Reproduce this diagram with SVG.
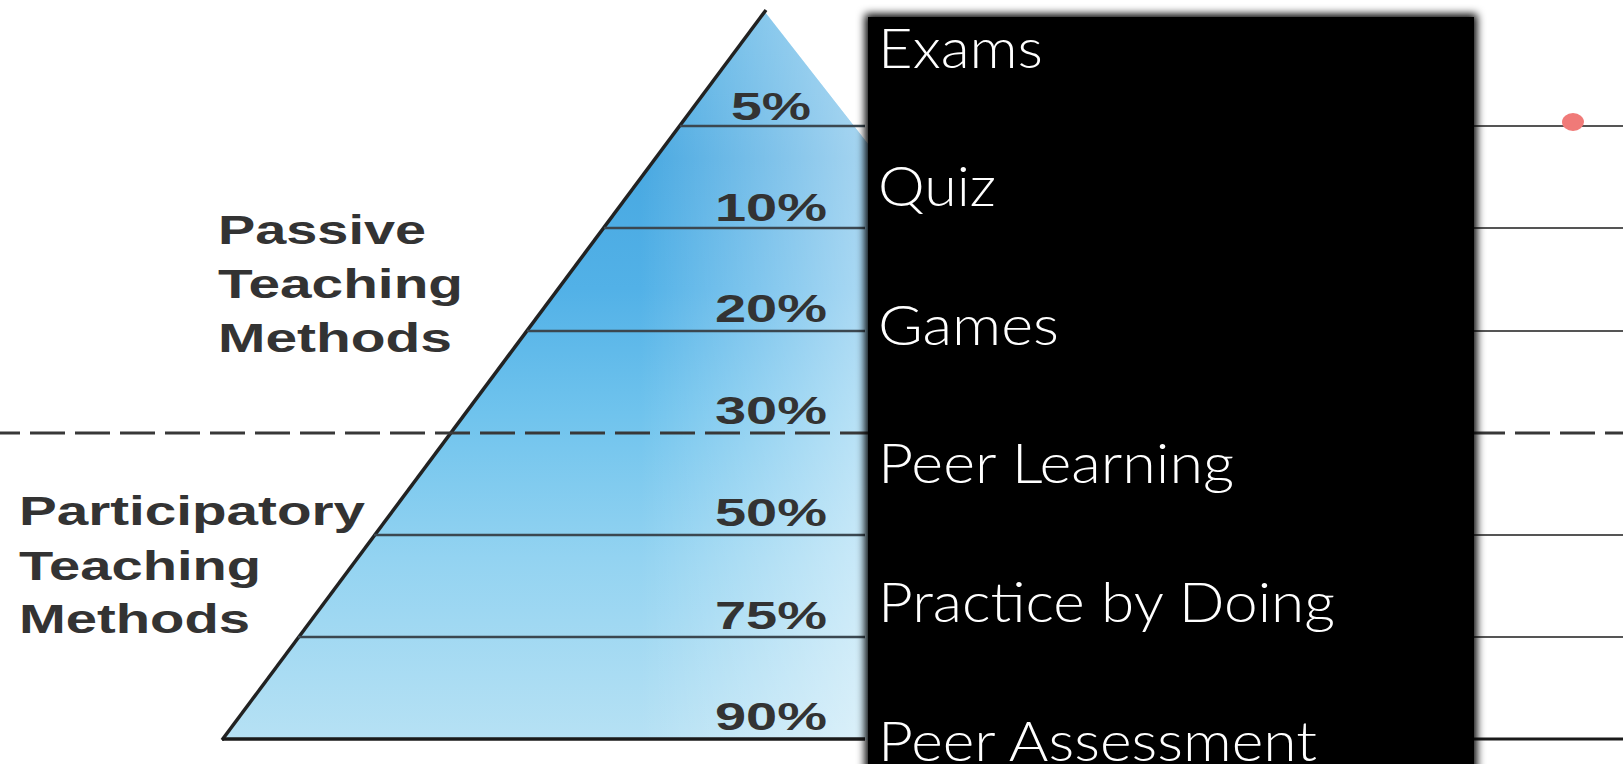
<svg xmlns="http://www.w3.org/2000/svg" width="1623" height="764" viewBox="0 0 1623 764">
<style>
.lbl{font-family:"Liberation Sans",Arial,sans-serif;font-weight:bold;font-size:40px;fill:#333}
.pct{font-family:"Liberation Sans",Arial,sans-serif;font-weight:bold;font-size:38px;fill:#333;text-anchor:middle}
.item{font-family:"Lato","Open Sans",sans-serif;font-weight:300;font-size:56px;fill:#fff}
.tier{stroke:#3b4750;stroke-width:2.5}
.rline{stroke:#555;stroke-width:2}
</style>
<defs>
<linearGradient id="vg" x1="0" y1="12" x2="0" y2="740" gradientUnits="userSpaceOnUse">
<stop offset="0" stop-color="#5ab3e5"/>
<stop offset="0.2" stop-color="#48a8e1"/>
<stop offset="0.38" stop-color="#52b1e7"/>
<stop offset="0.55" stop-color="#6fc3ed"/>
<stop offset="0.75" stop-color="#93d3f1"/>
<stop offset="1" stop-color="#b6e1f4"/>
</linearGradient>
<linearGradient id="hg" x1="640" y1="0" x2="860" y2="0" gradientUnits="userSpaceOnUse">
<stop offset="0" stop-color="#fff" stop-opacity="0"/>
<stop offset="1" stop-color="#fff" stop-opacity="0.5"/>
</linearGradient>
<filter id="soft" x="-5%" y="-5%" width="110%" height="110%">
<feGaussianBlur stdDeviation="4"/>
</filter>
</defs>
<rect width="1623" height="764" fill="#fff"/>
<g id="pyramid">
<polygon points="765,12 222,740 1333,740" fill="url(#vg)"/>
<polygon points="765,12 222,740 1333,740" fill="url(#hg)"/>
<line x1="766" y1="10" x2="222" y2="740" stroke="#222" stroke-width="3.5"/>
<line x1="222" y1="739" x2="865" y2="739" stroke="#1a1a1a" stroke-width="3.5"/>
</g>
<g id="connectors">
<line class="tier" x1="680" y1="126" x2="865" y2="126"/>
<line class="tier" x1="604" y1="228" x2="865" y2="228"/>
<line class="tier" x1="527" y1="331" x2="865" y2="331"/>
<line x1="0" y1="433" x2="1623" y2="433" stroke="#383838" stroke-width="3" stroke-dasharray="35 10" stroke-dashoffset="15"/>
<line class="tier" x1="374" y1="535" x2="865" y2="535"/>
<line class="tier" x1="298" y1="637" x2="865" y2="637"/>
<line class="rline" x1="1470" y1="126" x2="1623" y2="126"/>
<line class="rline" x1="1470" y1="228" x2="1623" y2="228"/>
<line class="rline" x1="1470" y1="331" x2="1623" y2="331"/>
<line class="rline" x1="1470" y1="535" x2="1623" y2="535"/>
<line class="rline" x1="1470" y1="637" x2="1623" y2="637"/>
<line x1="1470" y1="739" x2="1623" y2="739" stroke="#1a1a1a" stroke-width="3"/>
</g>
<g id="percentages">
<text class="pct" x="771" y="120" textLength="80" lengthAdjust="spacingAndGlyphs">5%</text>
<text class="pct" x="771" y="221" textLength="112" lengthAdjust="spacingAndGlyphs">10%</text>
<text class="pct" x="771" y="322" textLength="112" lengthAdjust="spacingAndGlyphs">20%</text>
<text class="pct" x="771" y="424" textLength="112" lengthAdjust="spacingAndGlyphs">30%</text>
<text class="pct" x="771" y="526" textLength="112" lengthAdjust="spacingAndGlyphs">50%</text>
<text class="pct" x="771" y="629" textLength="112" lengthAdjust="spacingAndGlyphs">75%</text>
<text class="pct" x="771" y="730" textLength="112" lengthAdjust="spacingAndGlyphs">90%</text>
</g>
<g id="passive-label">
<text class="lbl" x="218" y="244" textLength="208" lengthAdjust="spacingAndGlyphs">Passive</text>
<text class="lbl" x="218" y="298" textLength="245" lengthAdjust="spacingAndGlyphs">Teaching</text>
<text class="lbl" x="218" y="352" textLength="234" lengthAdjust="spacingAndGlyphs">Methods</text>
</g>
<g id="participatory-label">
<text class="lbl" x="19" y="525" textLength="346" lengthAdjust="spacingAndGlyphs">Participatory</text>
<text class="lbl" x="19" y="580" textLength="242" lengthAdjust="spacingAndGlyphs">Teaching</text>
<text class="lbl" x="19" y="633" textLength="231" lengthAdjust="spacingAndGlyphs">Methods</text>
</g>
<g id="methods-panel">
<rect x="865" y="14" width="612" height="780" fill="#000" filter="url(#soft)"/>
<rect x="868" y="17" width="606" height="760" fill="#000"/>
<text class="item" x="878" y="68" textLength="165" lengthAdjust="spacingAndGlyphs">Exams</text>
<text class="item" x="878" y="206" textLength="118" lengthAdjust="spacingAndGlyphs">Quiz</text>
<text class="item" x="878" y="345" textLength="181" lengthAdjust="spacingAndGlyphs">Games</text>
<text class="item" x="878" y="483" textLength="356" lengthAdjust="spacingAndGlyphs">Peer Learning</text>
<text class="item" x="878" y="622" textLength="457" lengthAdjust="spacingAndGlyphs">Practice by Doing</text>
<text class="item" x="878" y="761" textLength="439" lengthAdjust="spacingAndGlyphs">Peer Assessment</text>
</g>
<g id="marker-dot">
<ellipse cx="1573" cy="122" rx="11" ry="9" fill="#f07a78"/>
</g>
</svg>
